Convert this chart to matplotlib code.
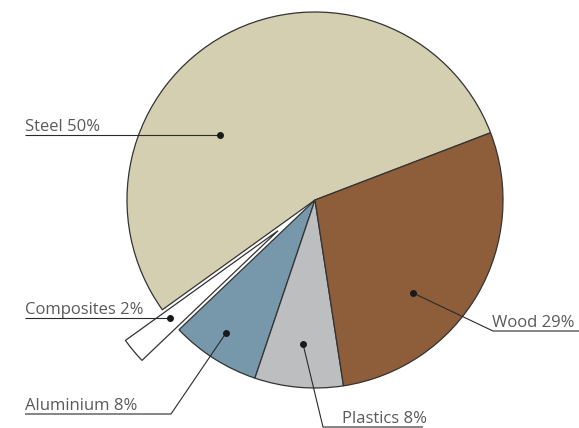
import matplotlib
matplotlib.use("Agg")
import matplotlib.pyplot as plt

# ---- data ----
materials = ["Steel", "Composites", "Aluminium", "Plastics", "Wood"]
label_pct = [50, 2, 8, 8, 29]              # percentages printed in labels
slice_share = [54.1, 2.2, 7.7, 7.6, 28.4]  # angular shares as drawn
colors = ["#D4CFB0", "#FFFFFF", "#7698AA", "#BDBEC0", "#8E5E3A"]
explode_px = [0, 48, 0, 0, 0]

W, H = 579, 428
fig = plt.figure(figsize=(W / 100, H / 100), dpi=100)
ax = fig.add_axes([0, 0, 1, 1])
ax.set_xlim(0, W)
ax.set_ylim(0, H)
ax.set_aspect("equal")
ax.axis("off")

cx, cy, R = 315, H - 200, 188
ax.pie(slice_share, colors=colors, explode=explode_px, startangle=20.96,
       counterclock=True, radius=R, center=(cx, cy), frame=True,
       wedgeprops=dict(edgecolor="#333333", linewidth=0.9))
ax.set_xlim(0, W)
ax.set_ylim(0, H)
ax.axis("off")

def P(x, y):
    return (x, H - y)

# layout: leader path (pixel), text anchor (pixel)
layout = {
    "Steel":      dict(path=[(220, 135), (25, 135)], text=(25, 131)),
    "Composites": dict(path=[(170, 318), (25, 318)], text=(25, 314)),
    "Aluminium":  dict(path=[(226, 333), (171, 414), (25, 414)], text=(25, 410)),
    "Plastics":   dict(path=[(303, 344), (323, 427), (423, 427)], text=(342, 423)),
    "Wood":       dict(path=[(413, 293), (493, 331), (579, 331)], text=(492, 327)),
}

for name, pct in zip(materials, label_pct):
    L = layout[name]
    xs = [P(*p)[0] for p in L["path"]]
    ys = [P(*p)[1] for p in L["path"]]
    ax.plot(xs, ys, color="#2a2a2a", lw=0.8, solid_capstyle="butt", zorder=5)
    ax.plot(xs[0], ys[0], "o", color="#1a1a1a", ms=4, zorder=6)
    tx, ty = P(*L["text"])
    ax.text(tx, ty, f"{name} {pct}%", fontsize=12, family="Open Sans",
            color="#5a5a5a", ha="left", va="baseline", zorder=6)

fig.savefig("out.png", dpi=100)
